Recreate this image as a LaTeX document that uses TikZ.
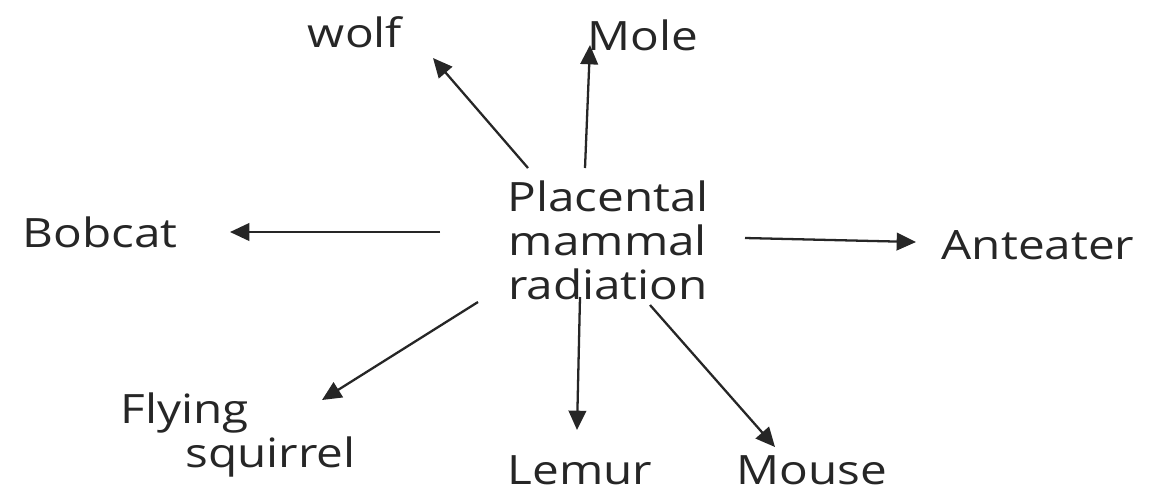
\documentclass[tikz,border=0pt]{standalone}
\usepackage{fontspec}
\setmainfont[FakeStretch=1.18]{Open Sans}
\usetikzlibrary{arrows.meta,calc}
\begin{document}
\begin{tikzpicture}[x=0.02cm,y=-0.02cm,
  lbl/.style={font=\fontsize{23}{25}\selectfont, inner sep=0pt, text=black!85},
  arr/.style={line width=1.3pt, draw=black!85, -{Triangle[length=11pt,width=10pt]}}]
\useasboundingbox[fill=white] (0,0) rectangle (1153,495);
\node[lbl, align=center] (c) at (608,240) {Placental\\mammal\\radiation};
\node[lbl] (wolf) at (355,32) {wolf};
\node[lbl] (mole) at (643,35) {Mole};
\node[lbl] (bobcat) at (100,232) {Bobcat};
\node[lbl] (anteater) at (1038,245) {Anteater};
\node[lbl, align=left] (fs) at (238,435) {Flying\\\hspace*{1.6em}squirrel};
\node[lbl] (lemur) at (580,470) {Lemur};
\node[lbl] (mouse) at (812,470) {Mouse};
\draw[arr] ($(c)+(-80,-72)$) -- ($(wolf)+(78,26)$);
\draw[arr] ($(c)+(-23,-72)$) -- ($(mole)+(-53,10)$);
\draw[arr] ($(c)+(-168,-8)$) -- ($(bobcat)+(130,0)$);
\draw[arr] ($(c)+(137,-2)$) -- ($(anteater)+(-122,-3)$);
\draw[arr] ($(c)+(-130,62)$) -- ($(fs)+(84,-35)$);
\draw[arr] ($(c)+(-28,57)$) -- ($(lemur)+(-3,-40)$);
\draw[arr] ($(c)+(42,65)$) -- ($(mouse)+(-37,-23)$);
\end{tikzpicture}
\end{document}
